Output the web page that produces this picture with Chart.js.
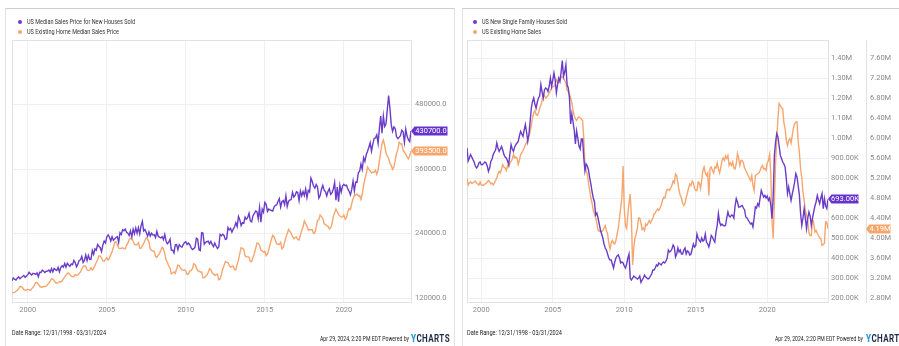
<!DOCTYPE html>
<html>
<head>
<meta charset="utf-8">
<script src="https://cdn.jsdelivr.net/npm/chart.js@4.4.1/dist/chart.umd.min.js"></script>
<style>
  html, body { margin: 0; padding: 0; background: #fff; width: 899px; height: 346px; overflow: hidden; }
  body { position: relative; font-family: "Liberation Sans Narrow", "Roboto", sans-serif; }
  .panel { position: absolute; top: 8px; height: 345px; box-sizing: border-box; border-top: 1px solid #cdcdcd; border-left: 1px solid #e3e3e3; }
  canvas { position: absolute; top: 0; }
  .txt { position: absolute; white-space: nowrap; transform-origin: 0 50%; color: #333; font-size: 8px; line-height: 10px; }
  .foot { color: #222; }
  .logo { font-weight: bold; font-size: 10px; color: #1d2a48; letter-spacing: 0.5px; }
  .logo b { color: #2b9ad6; }
  .dot { position: absolute; width: 4px; height: 4px; border-radius: 50%; }
</style>
</head>
<body>
<div class="panel" style="left:5px; width:450px; border-right:1px solid #e3e3e3;"></div>
<div class="panel" style="left:462px; width:445px;"></div>

<canvas id="priceChart" width="455" height="346" style="left:0"></canvas>
<canvas id="salesChart" width="444" height="346" style="left:455px"></canvas>

<span class="dot" style="left:18px; top:20px; background:#6a3dc8"></span>
<span class="txt" data-w="108" style="left:27px; top:17px">US Median Sales Price for New Houses Sold</span>
<span class="dot" style="left:18px; top:30px; background:#f6a66e"></span>
<span class="txt" data-w="92" style="left:27px; top:27px">US Existing Home Median Sales Price</span>

<span class="dot" style="left:473px; top:20px; background:#6a3dc8"></span>
<span class="txt" data-w="85" style="left:482px; top:17px">US New Single Family Houses Sold</span>
<span class="dot" style="left:473px; top:30px; background:#f6a66e"></span>
<span class="txt" data-w="59" style="left:482px; top:27px">US Existing Home Sales</span>

<span class="txt foot" data-w="94" style="left:12px; top:328px">Date Range: 12/31/1998 - 03/31/2024</span>
<span class="txt foot" data-w="89" style="left:320px; top:334px">Apr 29, 2024, 2:20 PM EDT Powered by</span>
<span class="txt logo" data-w="39" style="left:411px; top:334px"><b>Y</b>CHARTS</span>

<span class="txt foot" data-w="95" style="left:467px; top:328px">Date Range: 12/31/1998 - 03/31/2024</span>
<span class="txt foot" data-w="88" style="left:775px; top:334px">Apr 29, 2024, 2:20 PM EDT Powered by</span>
<span class="txt logo" data-w="39" style="left:866px; top:334px"><b>Y</b>CHARTS</span>

<script>
// monthly, end of month, Dec 1998 .. Mar 2024
const startYear = 1999; // 12/31/1998 sits at 1999.0
const yearTicks = [2000, 2005, 2010, 2015, 2020];

// ===== Left: median prices, in thousands of dollars =====
const priceTicks = [120, 240, 360, 480];

const newHomePrice = [
  152.0,
  157.4, 155.0, 153.5, 157.0, 159.3, 156.0, 158.3, 160.0, 162.0, 158.5, 160.9, 163.5, // 1999
  168.0, 164.9, 162.9, 166.0, 165.4, 163.9, 166.7, 159.6, 168.0, 167.5, 171.9, 169.9, // 2000
  167.5, 169.9, 170.0, 172.0, 168.0, 174.9, 168.6, 175.0, 172.9, 171.2, 177.0, 168.9, // 2001
  176.8, 179.9, 177.3, 184.1, 177.5, 184.6, 181.5, 179.0, 183.4, 182.1, 190.0, 186.0, // 2002
  178.0, 183.0, 189.9, 191.1, 197.4, 186.3, 190.0, 200.0, 189.7, 199.3, 192.0, 192.5, // 2003
  208.5, 201.5, 211.3, 208.9, 219.6, 216.1, 213.6, 206.5, 218.8, 226.1, 222.4, 233.6, // 2004
  237.4, 233.1, 226.0, 234.0, 227.5, 230.0, 232.5, 234.2, 223.3, 241.5, 238.3, 247.2, // 2005
  245.1, 248.3, 242.3, 240.7, 236.5, 245.1, 233.8, 248.1, 239.8, 250.4, 240.5, 251.0, // 2006
  239.5, 254.2, 262.6, 244.7, 247.3, 241.5, 235.1, 243.0, 235.3, 240.5, 237.1, 237.7, // 2007
  232.4, 244.1, 234.9, 233.2, 231.8, 234.1, 228.5, 238.3, 225.6, 221.1, 223.8, 229.6, // 2008
  209.0, 208.8, 203.9, 218.9, 219.3, 209.8, 219.2, 216.3, 214.5, 219.2, 223.2, 224.7, // 2009
  219.6, 222.3, 219.2, 213.8, 210.2, 211.8, 214.5, 231.4, 229.6, 209.8, 208.3, 241.5, // 2010
  240.7, 220.1, 223.5, 224.7, 225.7, 220.5, 225.5, 219.8, 215.7, 222.1, 216.8, 212.0, // 2011
  215.0, 238.2, 235.8, 238.5, 236.4, 229.0, 230.0, 251.1, 246.7, 249.5, 242.6, 248.2, // 2012
  252.5, 260.0, 252.8, 271.6, 265.6, 254.7, 260.1, 259.2, 270.6, 266.5, 270.0, 277.8, // 2013
  263.6, 261.8, 273.1, 276.8, 281.8, 280.6, 267.3, 288.5, 261.0, 285.2, 279.6, 297.8, // 2014
  294.4, 281.1, 285.5, 283.8, 282.8, 281.8, 289.3, 292.4, 293.0, 299.7, 305.0, 289.0, // 2015
  299.3, 301.4, 293.8, 310.2, 290.2, 300.0, 302.4, 303.2, 316.5, 307.9, 310.7, 317.5, // 2016
  316.2, 301.3, 318.9, 309.8, 318.0, 310.8, 322.9, 306.7, 320.4, 317.4, 343.3, 336.7, // 2017
  328.3, 324.3, 331.1, 326.6, 305.7, 310.6, 322.4, 329.7, 320.6, 317.9, 309.7, 318.5, // 2018
  323.4, 312.9, 315.4, 322.6, 335.0, 301.8, 326.3, 299.4, 329.8, 317.3, 328.4, 331.4, // 2019
  328.9, 330.0, 323.0, 318.6, 311.9, 322.1, 337.5, 319.1, 335.6, 335.1, 353.1, 355.9, // 2020
  369.3, 359.4, 380.9, 374.3, 386.6, 393.0, 400.4, 408.8, 393.4, 406.4, 416.9, 417.8, // 2021
  423.6, 407.9, 435.2, 458.7, 426.7, 458.6, 439.0, 443.7, 470.6, 496.8, 472.8, 442.1, // 2022
  429.9, 438.2, 435.4, 420.3, 416.6, 418.8, 422.2, 432.2, 429.1, 409.7, 434.1, 421.3, // 2023
  414.5, 411.0, 430.7                                                                  // 2024
];

const existingHomePrice = [
  130.0,
  130.0, 130.5, 133.0, 134.0, 137.5, 141.0, 141.5, 139.5, 135.5, 134.5, 135.0, 136.0, // 1999
  135.0, 134.0, 137.5, 140.0, 144.0, 148.5, 149.0, 146.0, 142.0, 140.5, 140.0, 141.5, // 2000
  141.5, 142.0, 145.0, 148.0, 151.5, 156.0, 155.0, 152.5, 148.5, 147.5, 148.0, 150.5, // 2001
  150.0, 151.5, 155.5, 159.0, 162.0, 166.0, 166.5, 163.5, 160.5, 159.5, 160.0, 163.5, // 2002
  162.5, 163.0, 165.5, 168.5, 173.5, 179.0, 180.0, 178.5, 172.0, 171.0, 172.0, 176.5, // 2003
  172.0, 175.0, 180.5, 186.0, 191.0, 198.5, 198.0, 194.5, 189.0, 188.5, 192.0, 195.0, // 2004
  190.5, 194.0, 200.5, 206.0, 214.5, 223.5, 224.5, 219.5, 213.0, 212.0, 212.5, 213.5, // 2005
  212.0, 211.5, 218.0, 222.5, 228.5, 231.5, 230.5, 225.5, 220.0, 219.0, 219.5, 223.0, // 2006
  213.0, 212.5, 217.5, 221.5, 227.0, 232.5, 229.5, 224.0, 211.5, 208.5, 207.5, 207.0, // 2007
  197.5, 195.5, 200.0, 203.0, 208.5, 214.5, 211.5, 202.5, 191.0, 186.0, 180.0, 175.5, // 2008
  165.0, 166.5, 168.5, 166.0, 174.0, 181.5, 180.0, 175.5, 172.5, 171.5, 172.5, 170.0, // 2009
  164.0, 164.5, 170.5, 171.0, 174.5, 184.0, 182.0, 176.5, 171.0, 170.0, 168.5, 168.5, // 2010
  157.5, 157.5, 160.0, 162.5, 167.5, 174.5, 172.5, 167.0, 164.5, 162.0, 163.5, 164.5, // 2011
  154.0, 155.5, 163.5, 174.0, 180.5, 187.5, 186.5, 186.0, 180.5, 177.5, 179.0, 179.5, // 2012
  172.5, 172.5, 182.5, 191.0, 203.0, 213.5, 212.5, 210.5, 198.5, 196.5, 196.5, 196.0, // 2013
  187.5, 188.0, 195.5, 202.5, 211.5, 222.0, 221.5, 218.0, 209.0, 207.5, 205.5, 207.0, // 2014
  199.0, 201.5, 210.0, 219.5, 229.5, 236.5, 234.0, 227.5, 220.5, 220.0, 219.5, 223.5, // 2015
  211.5, 214.0, 223.5, 232.5, 240.0, 247.5, 244.5, 240.0, 234.5, 230.5, 232.5, 233.5, // 2016
  228.5, 228.0, 236.5, 245.5, 252.5, 263.5, 258.5, 253.5, 246.5, 247.5, 247.0, 247.5, // 2017
  240.0, 241.5, 251.5, 264.5, 265.5, 274.5, 271.5, 268.5, 258.5, 256.5, 254.5, 253.5, // 2018
  248.5, 250.5, 257.5, 272.0, 278.5, 285.5, 280.5, 275.0, 272.5, 270.5, 271.0, 274.5, // 2019
  266.5, 270.0, 280.5, 286.5, 284.5, 295.5, 304.5, 310.5, 311.5, 313.5, 310.0, 310.8, // 2020
  303.5, 313.5, 329.5, 341.5, 350.5, 363.5, 359.9, 356.7, 352.8, 353.9, 353.9, 358.0, // 2021
  350.3, 357.3, 375.3, 391.2, 407.6, 413.8, 403.8, 389.5, 384.8, 379.1, 370.7, 366.9, // 2022
  359.0, 363.6, 375.7, 388.8, 396.1, 410.0, 406.7, 407.1, 394.3, 391.8, 387.6, 382.6, // 2023
  379.1, 384.5, 393.5                                                                  // 2024
];

// ===== Right: sales, SAAR =====
const newSalesTicks = [200, 300, 400, 500, 600, 700, 800, 900, 1000, 1100, 1200, 1300, 1400]; // thousands
const existingSalesTicks = [2.8, 3.2, 3.6, 4.0, 4.4, 4.8, 5.2, 5.6, 6.0, 6.4, 6.8, 7.2, 7.6]; // millions

const newHomeSales = [
  950,
  885, 900, 917, 905, 892, 880, 860, 850, 858, 875, 880, 866,            // 1999
  867, 873, 880, 875, 860, 833, 850, 883, 895, 917, 930, 940,            // 2000
  975, 950, 933, 945, 958, 940, 917, 905, 900, 885, 867, 920,            // 2001
  967, 945, 933, 955, 967, 975, 983, 1010, 1033, 1020, 1008, 1040,       // 2002
  1067, 1030, 983, 1020, 1083, 1150, 1183, 1200, 1170, 1150, 1180, 1200, // 2003
  1210, 1267, 1230, 1200, 1240, 1250, 1245, 1233, 1260, 1300, 1258, 1290, // 2004
  1325, 1290, 1225, 1265, 1300, 1283, 1330, 1387, 1308, 1330, 1367, 1267, // 2005
  1250, 1200, 1070, 1120, 1080, 1040, 970, 1035, 1000, 960, 945, 995,    // 2006
  995, 903, 836, 870, 860, 840, 800, 770, 730, 700, 680, 615,            // 2007
  625, 600, 570, 540, 520, 500, 470, 450, 440, 420, 400, 390,            // 2008
  390, 370, 350, 380, 400, 410, 415, 400, 375, 380, 375, 360,            // 2009
  350, 370, 400, 420, 300, 290, 300, 310, 305, 300, 295, 300,            // 2010
  310, 278, 290, 300, 315, 305, 300, 295, 300, 310, 320, 340,            // 2011
  340, 350, 365, 360, 375, 370, 365, 375, 380, 375, 385, 400,            // 2012
  440, 430, 435, 445, 465, 455, 405, 420, 450, 430, 440, 420,            // 2013
  420, 440, 450, 420, 435, 430, 415, 420, 445, 470, 455, 463,            // 2014
  520, 500, 488, 480, 500, 485, 490, 520, 480, 470, 455, 480,            // 2015
  513, 505, 490, 480, 530, 563, 622, 580, 563, 570, 563, 560,            // 2016
  563, 600, 630, 610, 605, 615, 613, 600, 660, 697, 680, 655,            // 2017
  655, 660, 663, 650, 640, 605, 600, 590, 580, 570, 575, 555,            // 2018
  600, 655, 650, 672, 660, 700, 738, 720, 705, 713, 700, 710,            // 2019
  688, 700, 663, 597, 705, 913, 980, 1022, 1005, 960, 913, 897,          // 2020
  880, 870, 855, 797, 722, 755, 720, 688, 720, 747, 780, 822,            // 2021
  805, 760, 713, 622, 563, 600, 647, 597, 547, 600, 630, 610,            // 2022
  563, 600, 630, 660, 680, 713, 690, 672, 700, 722, 647, 697,            // 2023
  660, 647, 693                                                          // 2024
];

const existingHomeSales = [
  5.19,
  5.06, 5.10, 5.12, 5.09, 5.10, 5.12, 5.14, 5.10, 5.08, 5.06, 5.12, 5.06, // 1999
  5.06, 5.05, 5.08, 5.09, 5.12, 5.15, 5.12, 5.08, 5.10, 5.06, 5.10, 5.15, // 2000
  5.20, 5.28, 5.33, 5.30, 5.38, 5.47, 5.42, 5.40, 5.35, 5.45, 5.42, 5.50, // 2001
  5.53, 5.58, 5.67, 5.60, 5.62, 5.60, 5.47, 5.55, 5.67, 5.70, 5.75, 5.80, // 2002
  5.87, 5.90, 5.97, 6.05, 6.13, 6.25, 6.40, 6.50, 6.55, 6.47, 6.45, 6.50, // 2003
  6.60, 6.65, 6.75, 6.87, 6.85, 6.80, 6.82, 6.85, 6.90, 6.95, 7.00, 7.03, // 2004
  7.03, 7.08, 7.17, 7.12, 7.10, 7.15, 7.23, 7.22, 7.20, 7.15, 7.10, 6.95, // 2005
  6.93, 6.88, 6.80, 6.70, 6.55, 6.45, 6.38, 6.35, 6.40, 6.42, 6.40, 6.38, // 2006
  6.35, 6.00, 5.47, 5.35, 5.28, 5.10, 4.95, 4.80, 4.69, 4.55, 4.48, 4.40, // 2007
  4.30, 4.15, 4.14, 4.13, 4.13, 4.15, 4.20, 4.25, 4.15, 4.08, 3.90, 3.78, // 2008
  3.90, 3.95, 3.90, 3.88, 3.95, 4.08, 4.20, 4.40, 4.60, 4.80, 5.44, 4.60, // 2009
  4.25, 4.19, 4.48, 4.70, 4.88, 4.40, 3.46, 3.80, 4.00, 4.08, 4.20, 4.40, // 2010
  4.40, 4.30, 4.17, 4.20, 4.15, 4.28, 4.25, 4.30, 4.35, 4.30, 4.35, 4.40, // 2011
  4.48, 4.50, 4.55, 4.58, 4.55, 4.60, 4.65, 4.75, 4.81, 4.80, 4.90, 4.97, // 2012
  4.97, 4.95, 5.00, 5.05, 5.14, 5.10, 5.28, 5.25, 5.10, 4.95, 4.85, 4.80, // 2013
  4.69, 4.65, 4.70, 4.81, 4.90, 5.00, 5.08, 5.05, 5.14, 5.10, 4.99, 4.95, // 2014
  4.95, 5.12, 5.10, 4.99, 5.15, 5.35, 5.42, 5.30, 5.25, 5.30, 4.85, 5.40, // 2015
  5.42, 5.35, 5.30, 5.42, 5.40, 5.50, 5.39, 5.30, 5.40, 5.55, 5.60, 5.55, // 2016
  5.64, 5.59, 5.65, 5.45, 5.50, 5.45, 5.52, 5.40, 5.38, 5.48, 5.69, 5.60, // 2017
  5.45, 5.55, 5.55, 5.50, 5.40, 5.35, 5.30, 5.25, 5.19, 5.15, 5.25, 5.05, // 2018
  4.95, 5.25, 5.27, 5.29, 5.30, 5.35, 5.42, 5.45, 5.38, 5.39, 5.35, 5.50, // 2019
  5.55, 5.67, 5.27, 4.35, 3.99, 4.72, 5.50, 5.99, 6.40, 6.69, 6.65, 6.60, // 2020
  6.59, 6.30, 6.19, 5.95, 5.85, 5.95, 5.99, 5.90, 6.05, 6.20, 6.29, 6.32, // 2021
  6.32, 5.92, 5.70, 5.39, 5.20, 4.92, 4.75, 4.55, 4.45, 4.35, 4.10, 4.05, // 2022
  4.05, 4.39, 4.30, 4.12, 4.15, 4.09, 4.05, 4.00, 3.99, 3.85, 3.87, 3.89, // 2023
  4.32, 4.32, 4.19                                                        // 2024
];

const PURPLE = "#6a3dc8";
const ORANGE = "#f6a66e";
const GRID = "#efefef";
const FRAME = "#e2e2e2";
const TICK = "#8a8a8a";
const tickFont = { family: '"Liberation Sans Narrow", "Roboto", sans-serif', size: 7.5 };

const toPoints = (vals) => vals.map((v, i) => ({ x: startYear + i / 12, y: v }));
const setTicks = (list) => (scale) => { scale.ticks = list.map((v) => ({ value: v })); };

const fmtPrice = (v) => (v * 1000).toFixed(1);
const fmtNewSales = (v) => (v >= 1000 ? (v / 1000).toFixed(2) + "M" : v.toFixed(2) + "K");
const fmtExisting = (v) => v.toFixed(2) + "M";

// light box round the plot area
const framePlugin = {
    id: "frame",
    beforeDatasetsDraw(chart) {
        const { ctx, chartArea: a } = chart;
        ctx.save();
        ctx.strokeStyle = FRAME;
        ctx.lineWidth = 1;
        ctx.strokeRect(a.left + 0.5, a.top + 0.5, a.right - a.left, a.bottom - a.top);
        ctx.restore();
    },
};

// last-value tags on the right axes
const badgePlugin = {
    id: "badges",
    afterDraw(chart, args, opts) {
        const { ctx } = chart;
        (opts.items || []).forEach((b) => {
            const ds = chart.data.datasets[b.dataset];
            const last = ds.data[ds.data.length - 1].y;
            const scale = chart.scales[b.axis];
            const y = Math.round(scale.getPixelForValue(last)) + (b.dy || 0);
            const tip = b.anchor === "scale" ? scale.left : chart.chartArea.right;
            const h = 4.5;
            ctx.save();
            ctx.fillStyle = b.color;
            ctx.beginPath();
            ctx.moveTo(tip, y);
            ctx.lineTo(tip + 3.5, y - h);
            ctx.lineTo(tip + 3.5 + b.width, y - h);
            ctx.lineTo(tip + 3.5 + b.width, y + h);
            ctx.lineTo(tip + 3.5, y + h);
            ctx.closePath();
            ctx.fill();
            ctx.fillStyle = "#fff";
            ctx.font = '7.5px "Liberation Sans Narrow", "Roboto", sans-serif';
            ctx.textAlign = "center";
            ctx.textBaseline = "middle";
            ctx.fillText(b.format(last), tip + 3.5 + b.width / 2, y + 0.5);
            ctx.restore();
        });
    },
};

const lineDs = (label, vals, color, axis) => ({
    label,
    data: toPoints(vals),
    borderColor: color,
    backgroundColor: color,
    borderWidth: 1.4,
    pointRadius: 0,
    tension: 0,
    yAxisID: axis,
});

const xScale = {
    type: "linear",
    min: 1999,
    max: 2024.25,
    afterBuildTicks: setTicks(yearTicks),
    afterFit: (s) => { s.height = 20; },
    grid: { color: GRID, drawTicks: false },
    border: { color: FRAME },
    ticks: { padding: 4, color: TICK, font: tickFont, maxRotation: 0, autoSkip: false, callback: (v) => String(v) },
};

// ===== Median prices =====
new Chart(document.getElementById("priceChart"), {
    type: "line",
    data: {
        datasets: [
            lineDs("US Median Sales Price for New Houses Sold", newHomePrice, PURPLE, "y"),
            lineDs("US Existing Home Median Sales Price", existingHomePrice, ORANGE, "y"),
        ],
    },
    options: {
        responsive: false,
        animation: false,
        devicePixelRatio: 1,
        layout: { padding: { left: 12, top: 40, right: 0, bottom: 24 } },
        plugins: {
            legend: { display: false },
            tooltip: { enabled: false },
            badges: {
                items: [
                    { dataset: 0, axis: "y", color: "#6633cc", width: 33, format: fmtPrice },
                    { dataset: 1, axis: "y", color: "#f7a56a", width: 33, format: fmtPrice },
                ],
            },
        },
        scales: {
            x: xScale,
            y: {
                position: "right",
                min: 112.6,
                max: 600,
                afterBuildTicks: setTicks(priceTicks),
                afterFit: (s) => { s.width = 44; },
                grid: { color: GRID, drawTicks: false },
                border: { color: FRAME },
                ticks: { padding: 4, color: TICK, font: tickFont, callback: fmtPrice },
            },
        },
    },
    plugins: [framePlugin, badgePlugin],
});

// ===== Sales =====
new Chart(document.getElementById("salesChart"), {
    type: "line",
    data: {
        datasets: [
            lineDs("US New Single Family Houses Sold", newHomeSales, PURPLE, "y1"),
            lineDs("US Existing Home Sales", existingHomeSales, ORANGE, "y2"),
        ],
    },
    options: {
        responsive: false,
        animation: false,
        devicePixelRatio: 1,
        layout: { padding: { left: 12, top: 40, right: 0, bottom: 24 } },
        plugins: {
            legend: { display: false },
            tooltip: { enabled: false },
            badges: {
                items: [
                    { dataset: 0, axis: "y1", color: "#6633cc", width: 27, format: fmtNewSales },
                    { dataset: 1, axis: "y2", anchor: "scale", color: "#f7a56a", width: 21, format: fmtExisting },
                ],
            },
        },
        scales: {
            x: xScale,
            y1: {
                position: "right",
                weight: 0,
                min: 180,
                max: 1490,
                afterBuildTicks: setTicks(newSalesTicks),
                afterFit: (s) => { s.width = 38; },
                grid: { color: GRID, drawTicks: false },
                border: { color: FRAME },
                ticks: { padding: 3, color: TICK, font: tickFont, callback: fmtNewSales },
            },
            y2: {
                position: "right",
                weight: 1,
                min: 2.72,
                max: 7.96,
                afterBuildTicks: setTicks(existingSalesTicks),
                afterFit: (s) => { s.width = 33; },
                grid: { display: false, drawTicks: false },
                border: { display: true, color: FRAME },
                ticks: { padding: 4, color: TICK, font: tickFont, callback: fmtExisting },
            },
        },
    },
    plugins: [framePlugin, badgePlugin],
});

// squeeze the condensed captions to their widths
document.querySelectorAll(".txt[data-w]").forEach((el) => {
    const w = el.getBoundingClientRect().width;
    el.style.transform = `scaleX(${el.dataset.w / w})`;
});
</script>
</body>
</html>
